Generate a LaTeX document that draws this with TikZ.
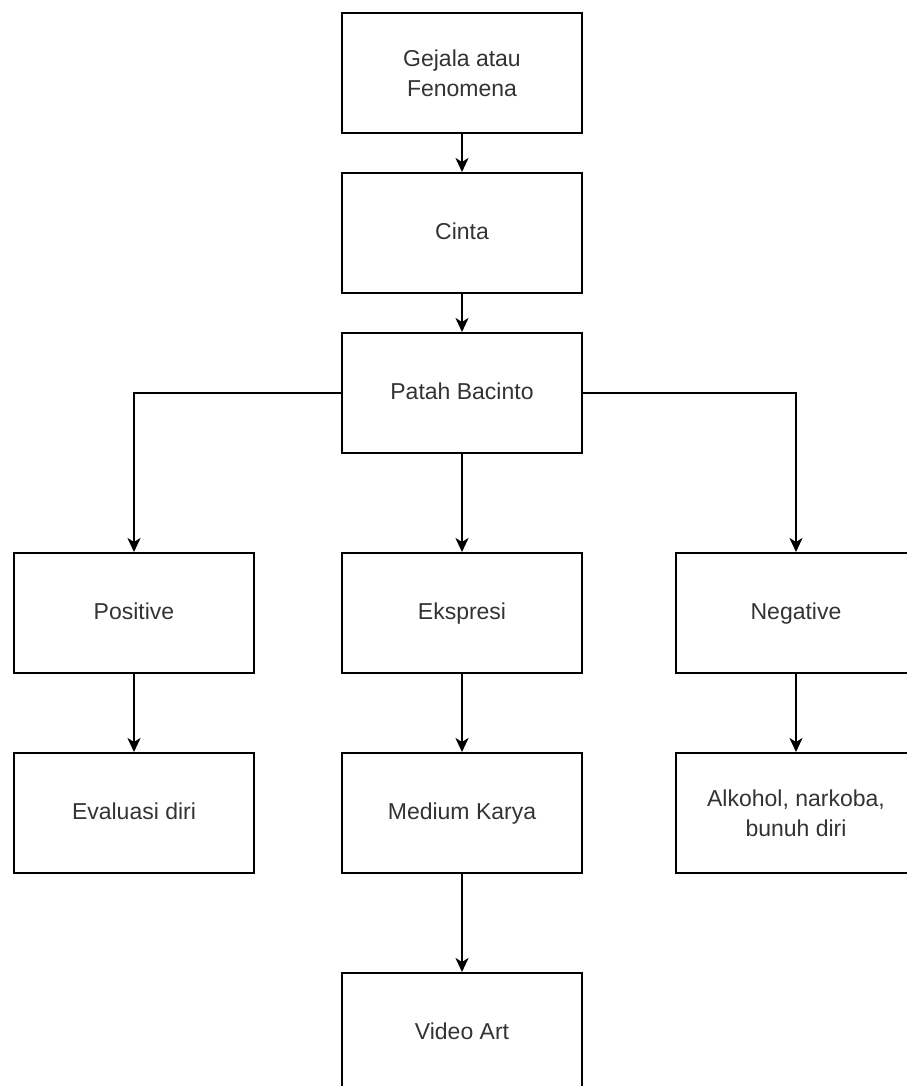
\documentclass[tikz,border=0pt]{standalone}
\usepackage{fontspec}
\setmainfont{Liberation Sans}
\usetikzlibrary{arrows.meta}
\definecolor{labelgray}{HTML}{333333}
\tikzset{
  stepbox/.style={draw, line width=2pt, minimum width=240pt, minimum height=120pt,
    align=center, text=labelgray, font=\fontsize{23}{30}\selectfont},
  oneline/.style={text height=17pt, text depth=5pt},
  flow/.style={line width=2pt, -{Stealth[length=14pt,width=13pt,inset=4pt]}}
}
\begin{document}
\begin{tikzpicture}[x=1pt,y=-1pt]
\useasboundingbox (0,0) rectangle (906,1086);

\node[stepbox] (gejala) at (462,73) {Gejala atau\\Fenomena};
\node[stepbox, oneline] (cinta) at (462,233) {Cinta};
\node[stepbox, oneline] (patah) at (462,393) {Patah Bacinto};

\node[stepbox, oneline] (positive) at (134,613) {Positive};
\node[stepbox, oneline] (ekspresi) at (462,613) {Ekspresi};
\node[stepbox, oneline] (negative) at (796,613) {Negative};

\node[stepbox, oneline] (evaluasi) at (134,813) {Evaluasi diri};
\node[stepbox, oneline] (medium) at (462,813) {Medium Karya};
\node[stepbox] (alkohol) at (796,813) {Alkohol, narkoba,\\bunuh diri};

\node[stepbox, oneline] (video) at (462,1033) {Video Art};

\draw[flow] (gejala) -- (cinta);
\draw[flow] (cinta) -- (patah);
\draw[flow] (patah.west) -| (positive.north);
\draw[flow] (patah) -- (ekspresi);
\draw[flow] (patah.east) -| (negative.north);

\draw[flow] (positive) -- (evaluasi);
\draw[flow] (ekspresi) -- (medium);
\draw[flow] (negative) -- (alkohol);
\draw[flow] (medium) -- (video);
\end{tikzpicture}
\end{document}
